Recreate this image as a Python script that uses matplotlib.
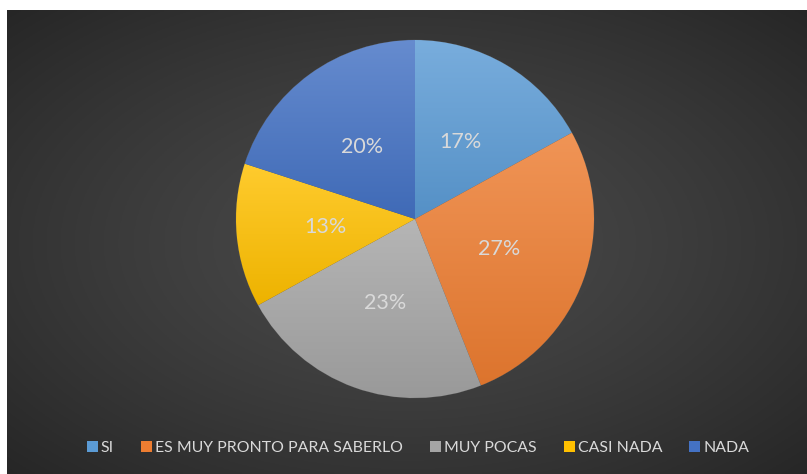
import numpy as np
import matplotlib
matplotlib.use("Agg")
import matplotlib.pyplot as plt
from matplotlib.colors import to_rgb
from matplotlib.patches import Patch

# datos
labels = ["SI", "ES MUY PRONTO PARA SABERLO", "MUY POCAS", "CASI NADA", "NADA"]
values = [17, 27, 23, 13, 20]
colors = ["#5B9BD5", "#ED7D31", "#A5A5A5", "#FFC000", "#4472C4"]

plt.rcParams["font.family"] = ["Lato", "DejaVu Sans"]
TXT = "#d9d9d9"

W, H = 807, 474
fig = plt.figure(figsize=(W / 100, H / 100), dpi=100)
fig.patch.set_facecolor("white")

# fondo con degradado radial
bg = fig.add_axes([7 / W, 0, (W - 7) / W, (H - 10) / H])
bg.set_axis_off()
yy, xx = np.mgrid[0:200, 0:340]
d = np.hypot((xx - 170) / 170, (yy - 100) / 100) / np.sqrt(2)
g = 0.29 - 0.14 * d ** 1.3
bg.imshow(np.dstack([g, g, g]), aspect="auto", extent=[0, 1, 0, 1])
bg.set_xlim(0, 1); bg.set_ylim(0, 1)

# tarta
cx, cy, r = 415, H - 219, 179
ax = fig.add_axes([(cx - r) / W, (cy - r) / H, 2 * r / W, 2 * r / H])
ax.set_axis_off()
wedges, texts, autotexts = ax.pie(
    values, colors=colors, startangle=90, counterclock=False,
    autopct=lambda p: f"{p:.0f}%", pctdistance=0.5, radius=1,
    wedgeprops=dict(linewidth=0.4, edgecolor="#555555"),
    textprops=dict(color=TXT, fontsize=15.5))

def shade(c, f):
    c = np.array(to_rgb(c))
    return np.clip(c + (1 - c) * f, 0, 1) if f > 0 else np.clip(c * (1 + f), 0, 1)

for w, c in zip(wedges, colors):
    ext = w.get_path().get_extents()
    top, bot = shade(c, 0.18), shade(c, -0.07)
    t = np.linspace(0, 1, 100)[:, None]
    grad = top[None, :] * (1 - t) + bot[None, :] * t
    img = ax.imshow(grad[:, None, :], aspect="auto", zorder=w.get_zorder(),
                    extent=[ext.x0, ext.x1, ext.y0, ext.y1])
    img.set_clip_path(w)
    w.set_facecolor("none")
for t in autotexts:
    t.set_zorder(5)
ax.set_xlim(-1, 1); ax.set_ylim(-1, 1)

handles = [Patch(facecolor=c, edgecolor="none") for c in colors]
fig.legend(handles, labels, loc="center", bbox_to_anchor=(0.518, 26 / H),
           ncol=5, frameon=False, fontsize=11.4, labelcolor=TXT,
           handlelength=0.7, handleheight=0.7, handletextpad=0.2,
           columnspacing=1.7)

fig.savefig("out.png", dpi=100, facecolor="white")
